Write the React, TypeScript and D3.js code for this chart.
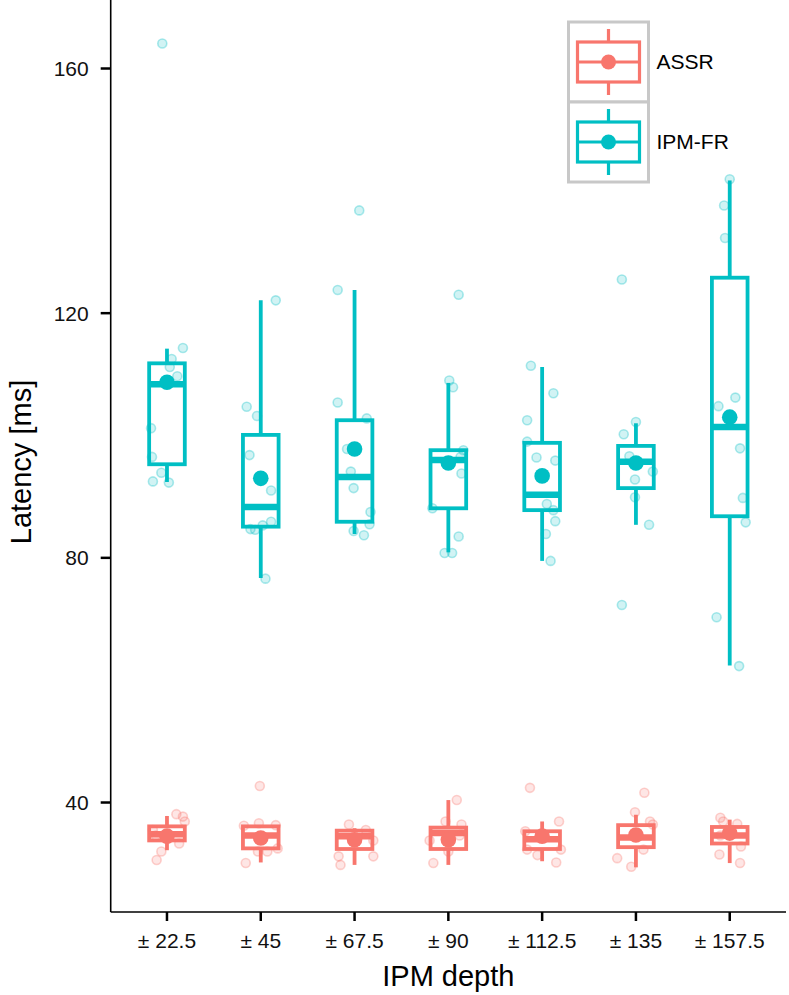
import React from "react";
import * as d3 from "d3";

const categories = ["± 22.5", "± 45", "± 67.5", "± 90", "± 112.5", "± 135", "± 157.5"];
const seriesNames = ["ASSR", "IPM-FR"];
const seriesColors = ["#F8766D", "#00BFC4"];
const yTickValues = [40, 80, 120, 160];

// IPM-FR box statistics per category
const ipmLower = [92.4, 76.7, 83.9, 80.9, 79.5, 85.4, 62.4];
const ipmQ1 = [95.3, 85.1, 85.9, 88.1, 87.8, 91.4, 86.8];
const ipmMedian = [108.4, 88.3, 93.2, 96.0, 90.3, 95.7, 101.4];
const ipmQ3 = [111.8, 100.1, 102.5, 97.6, 98.8, 98.3, 125.8];
const ipmUpper = [114.2, 122.1, 123.8, 108.6, 111.2, 102.0, 141.7];
const ipmMean = [108.7, 93.0, 97.8, 95.5, 93.4, 95.5, 103.0];

// ASSR box statistics per category
const assrLower = [32.2, 30.2, 29.8, 29.8, 30.4, 29.4, 30.1];
const assrQ1 = [33.8, 32.5, 32.4, 32.4, 32.4, 32.7, 33.3];
const assrMedian = [34.8, 34.6, 34.5, 35.0, 34.0, 34.3, 34.6];
const assrQ3 = [36.1, 36.1, 35.4, 35.9, 35.3, 36.3, 36.0];
const assrUpper = [37.8, 36.1, 35.8, 40.4, 36.9, 38.0, 37.2];
const assrMean = [34.5, 34.2, 33.9, 33.9, 34.5, 34.7, 35.0];

// individual observations: [value, jitter (fraction of category step)]
const ipmPoints = [
  [[164.1, -0.05], [114.3, 0.17], [112.5, 0.05], [111.2, 0.03], [109.7, 0.11], [101.2, -0.17], [96.5, -0.16], [93.9, -0.06], [92.5, -0.15], [92.3, 0.02]],
  [[122.1, 0.16], [104.7, -0.15], [103.2, -0.04], [96.8, -0.12], [91.0, 0.11], [85.9, 0.11], [84.7, -0.11], [84.6, -0.06], [85.3, 0.02], [76.6, 0.05]],
  [[136.8, 0.05], [123.8, -0.18], [105.4, -0.18], [102.8, 0.13], [97.8, -0.08], [94.1, -0.04], [91.4, -0.01], [87.5, 0.17], [85.5, 0.16], [84.4, -0.01], [83.7, 0.1]],
  [[123.0, 0.11], [109.0, 0.01], [107.9, 0.05], [97.6, 0.16], [96.5, 0.13], [93.8, 0.14], [88.1, -0.17], [83.5, 0.11], [80.8, -0.04], [80.8, 0.04]],
  [[111.4, -0.12], [106.9, 0.12], [102.5, -0.16], [99.0, -0.16], [96.4, -0.06], [95.9, 0.14], [88.8, 0.05], [87.8, 0.12], [86.0, 0.14], [83.9, 0.04], [79.5, 0.09]],
  [[125.5, -0.15], [102.2, 0.0], [100.2, -0.13], [96.6, -0.07], [94.1, 0.18], [92.8, -0.01], [89.9, -0.01], [85.4, 0.14], [72.3, -0.15]],
  [[141.9, 0.0], [137.6, -0.06], [132.3, -0.05], [106.2, 0.06], [104.8, -0.12], [97.9, 0.11], [89.8, 0.14], [85.8, 0.17], [70.3, -0.14], [62.3, 0.1]],
];
const assrPoints = [
  [[38.1, 0.1], [37.7, 0.17], [36.9, 0.19], [35.5, -0.15], [33.3, 0.13], [32.0, -0.06], [30.6, -0.11], [34.6, -0.12]],
  [[42.7, -0.01], [36.2, -0.18], [36.6, -0.02], [36.3, 0.16], [32.0, -0.03], [32.5, 0.18], [30.1, -0.16], [32.0, 0.07]],
  [[36.4, -0.06], [35.5, 0.12], [31.2, -0.17], [29.8, -0.15], [31.2, 0.2], [33.8, 0.2]],
  [[40.4, 0.09], [36.9, -0.03], [36.4, 0.14], [32.0, 0.0], [30.1, -0.16], [33.8, -0.2], [34.6, 0.12]],
  [[42.4, -0.13], [36.9, 0.18], [35.3, -0.18], [32.3, -0.16], [31.4, -0.05], [30.2, 0.15], [32.3, 0.2]],
  [[41.6, 0.09], [38.4, -0.01], [36.9, 0.15], [36.4, 0.18], [30.9, -0.2], [29.5, -0.05], [32.3, 0.08]],
  [[37.5, -0.1], [36.9, -0.07], [34.6, -0.1], [31.5, -0.11], [32.8, 0.12], [30.1, 0.11], [36.5, 0.08]],
];

const FONT = "'Liberation Sans', Arial, Helvetica, sans-serif";

export default function App() {
  const W = 789;
  const H = 995;
  const panelLeft = 110.7;
  const panelRight = 786;
  const panelTop = 0;
  const panelBottom = 912;

  const x = d3.scalePoint<string>().domain(categories).range([panelLeft, panelRight]).padding(0.6);
  const step = x.step();
  const y = d3.scaleLinear().domain([22.1, 171.2]).range([panelBottom, panelTop]);
  const hw = step * 0.19;

  const series = [
    { name: seriesNames[0], color: seriesColors[0], lower: assrLower, q1: assrQ1, med: assrMedian, q3: assrQ3, upper: assrUpper, mean: assrMean, pts: assrPoints },
    { name: seriesNames[1], color: seriesColors[1], lower: ipmLower, q1: ipmQ1, med: ipmMedian, q3: ipmQ3, upper: ipmUpper, mean: ipmMean, pts: ipmPoints },
  ];

  const boxLW = 3.8;

  const legendX = 568.5;
  const legendW = 80;
  const legendKeyH = 80;
  const legendY = 22;

  return (
    <svg width={W} height={H} style={{ position: "absolute", left: 0, top: 0, display: "block", background: "#fff" }} fontFamily={FONT}>
      <rect x={0} y={0} width={W} height={H} fill="#fff" />
      {/* boxes */}
      {series.map((s) => (
        <g key={s.name}>
          {categories.map((c, i) => {
            const cx = x(c)!;
            return (
              <g key={c}>
                <line x1={cx} x2={cx} y1={y(s.upper[i])} y2={y(s.q3[i])} stroke={s.color} strokeWidth={boxLW} />
                <line x1={cx} x2={cx} y1={y(s.q1[i])} y2={y(s.lower[i])} stroke={s.color} strokeWidth={boxLW} />
                <rect x={cx - hw} y={y(s.q3[i])} width={2 * hw} height={y(s.q1[i]) - y(s.q3[i])} fill="#fff" stroke={s.color} strokeWidth={boxLW} />
                <line x1={cx - hw} x2={cx + hw} y1={y(s.med[i])} y2={y(s.med[i])} stroke={s.color} strokeWidth={6.5} />
              </g>
            );
          })}
        </g>
      ))}
      {/* points */}
      {series.map((s) => (
        <g key={s.name + "-pts"}>
          {categories.map((c, i) =>
            s.pts[i].map((p, j) => (
              <circle key={c + j} cx={x(c)! + p[1] * step} cy={y(p[0])} r={4.5} fill={s.color} fillOpacity={0.18} stroke={s.color} strokeOpacity={0.32} strokeWidth={1.6} />
            ))
          )}
        </g>
      ))}
      {/* means */}
      {series.map((s) => (
        <g key={s.name + "-mean"}>
          {categories.map((c, i) => (
            <circle key={c} cx={x(c)!} cy={y(s.mean[i])} r={7.8} fill={s.color} />
          ))}
        </g>
      ))}
      {/* axes */}
      <line x1={panelLeft} x2={panelLeft} y1={panelTop} y2={panelBottom} stroke="#000" strokeWidth={1.6} />
      <line x1={panelLeft} x2={panelRight} y1={panelBottom} y2={panelBottom} stroke="#000" strokeWidth={1.6} />
      {yTickValues.map((t) => (
        <g key={t}>
          <line x1={panelLeft - 10} x2={panelLeft} y1={y(t)} y2={y(t)} stroke="#000" strokeWidth={2.5} />
          <text x={panelLeft - 22} y={y(t)} dy="0.35em" textAnchor="end" fontSize={21} fill="#111">{t}</text>
        </g>
      ))}
      {categories.map((c) => (
        <g key={c}>
          <line x1={x(c)} x2={x(c)} y1={panelBottom} y2={panelBottom + 9} stroke="#000" strokeWidth={2.5} />
          <text x={x(c)} y={panelBottom + 36} textAnchor="middle" fontSize={21} fill="#111">{c}</text>
        </g>
      ))}
      <text x={(panelLeft + panelRight) / 2} y={986} textAnchor="middle" fontSize={29} fill="#000">IPM depth</text>
      <text transform={`translate(31, ${(panelTop + panelBottom) / 2 + 6}) rotate(-90)`} textAnchor="middle" fontSize={29} fill="#000">Latency [ms]</text>
      {/* legend */}
      {series.map((s, k) => {
        const ky = legendY + k * legendKeyH;
        const cx = legendX + legendW / 2;
        const cy = ky + legendKeyH / 2;
        return (
          <g key={s.name + "-leg"}>
            <rect x={legendX} y={ky} width={legendW} height={legendKeyH} fill="#fff" stroke="#c8c8c8" strokeWidth={3} />
            <line x1={cx} x2={cx} y1={cy - 33} y2={cy + 33} stroke={s.color} strokeWidth={3.2} />
            <rect x={cx - 31} y={cy - 20} width={62} height={40} fill="#fff" stroke={s.color} strokeWidth={3.2} />
            <line x1={cx - 31} x2={cx + 31} y1={cy} y2={cy} stroke={s.color} strokeWidth={3.2} />
            <circle cx={cx} cy={cy} r={7.5} fill={s.color} />
            <text x={legendX + legendW + 8} y={cy} dy="0.35em" fontSize={21} fill="#000">{s.name}</text>
          </g>
        );
      })}
    </svg>
  );
}
